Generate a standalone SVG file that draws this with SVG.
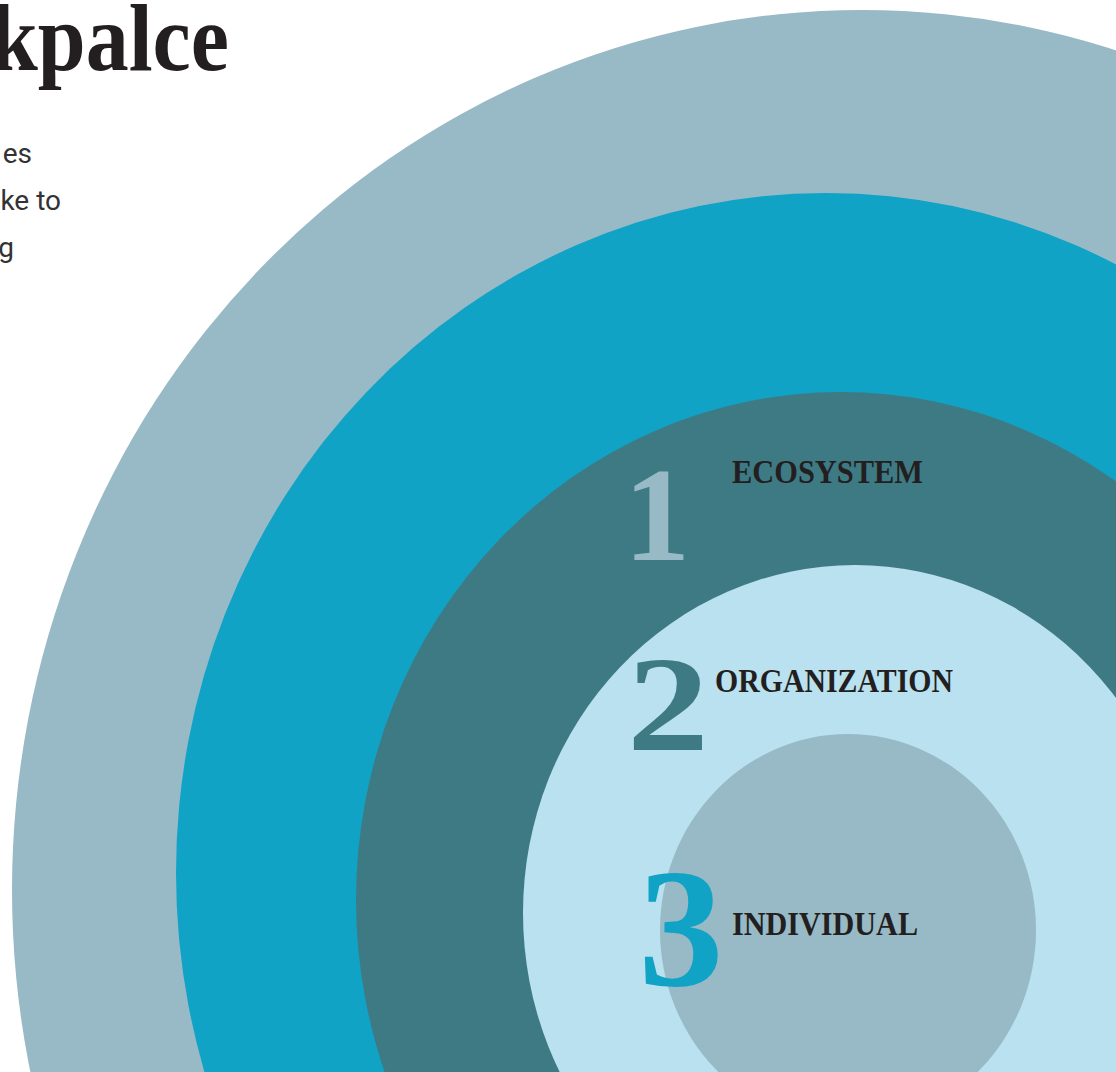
<svg xmlns="http://www.w3.org/2000/svg" width="1116" height="1072" viewBox="0 0 1116 1072">
  <style>
    .title { font-family: "Liberation Serif", "DejaVu Serif", serif; font-weight: bold; fill: #231F20; }
    .body { font-family: Roboto, "Liberation Sans", sans-serif; font-size: 28px; fill: #333333; }
    .label { font-family: "Liberation Serif", "DejaVu Serif", serif; font-weight: bold; font-size: 33px; fill: #231F20; }
    .num { font-family: "Liberation Serif", "DejaVu Serif", serif; font-weight: bold; }
    .grey { fill: #97BAC6; }
    .cyan { fill: #11A3C5; }
    .teal { fill: #3E7A84; }
    .pale { fill: #BAE1EF; }
  </style>

  <rect width="1116" height="1072" fill="#FFFFFF"/>

  <!-- heading and intro copy, running off the left edge -->
  <g id="heading">
    <text class="title" x="-10" y="70" font-size="96" textLength="239" lengthAdjust="spacingAndGlyphs">kpalce</text>
  </g>
  <g id="intro">
    <text class="body" x="32" y="163" text-anchor="end">es</text>
    <text class="body" x="61" y="210" text-anchor="end">ke to</text>
    <text class="body" x="14" y="257" text-anchor="end">g</text>
  </g>

  <!-- nested rings, outermost first -->
  <g id="ring-outer">
    <ellipse class="grey" cx="862" cy="890" rx="850" ry="880"/>
  </g>
  <g id="ring-ecosystem-band">
    <ellipse class="cyan" cx="826" cy="873" rx="650" ry="680"/>
  </g>
  <g id="ring-ecosystem">
    <ellipse class="teal" cx="841" cy="900" rx="485" ry="508"/>
    <text class="num grey" x="657" y="560" font-size="133" text-anchor="middle">1</text>
    <text class="label" x="732" y="483" textLength="191" lengthAdjust="spacingAndGlyphs">ECOSYSTEM</text>
  </g>
  <g id="ring-organization">
    <ellipse class="pale" cx="855" cy="913" rx="332" ry="348"/>
    <text class="num teal" x="627" y="750" font-size="136" textLength="82" lengthAdjust="spacingAndGlyphs">2</text>
    <text class="label" x="715" y="692" textLength="238" lengthAdjust="spacingAndGlyphs">ORGANIZATION</text>
  </g>
  <g id="ring-individual">
    <ellipse class="grey" cx="848" cy="930" rx="188" ry="196"/>
    <text class="num cyan" x="681" y="985" font-size="170" text-anchor="middle">3</text>
    <text class="label" x="732" y="935" textLength="186" lengthAdjust="spacingAndGlyphs">INDIVIDUAL</text>
  </g>
</svg>
